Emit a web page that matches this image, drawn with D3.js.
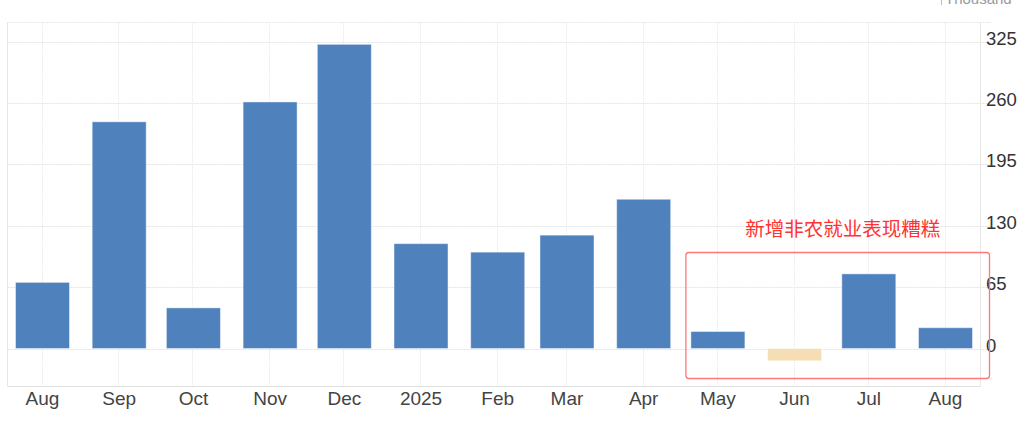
<!DOCTYPE html>
<html>
<head>
<meta charset="utf-8">
<script src="https://cdn.jsdelivr.net/npm/d3@7"></script>
<style>
  html, body { margin: 0; padding: 0; background: #fff; }
  svg { display: block; font-family: "Liberation Sans", Arial, sans-serif; }
</style>
</head>
<body>
<div id="chart"></div>
<script>
// monthly change in nonfarm payrolls, thousands
const months = ['2024-08', '2024-09', '2024-10', '2024-11', '2024-12', '2025-01',
  '2025-02', '2025-03', '2025-04', '2025-05', '2025-06', '2025-07', '2025-08']
const values = [70, 240, 43, 261, 322, 111, 102, 120, 158, 18, -13, 79, 22]
const tickLabels = ['Aug', 'Sep', 'Oct', 'Nov', 'Dec', '2025', 'Feb', 'Mar', 'Apr', 'May', 'Jun', 'Jul', 'Aug']
const yTicks = [0, 65, 130, 195, 260, 325]
const unitLabel = 'Thousand'
const note = '新增非农就业表现糟糕'

const width = 1024, height = 421
const parse = d3.timeParse('%Y-%m')
const data = months.map((m, i) => ({ date: parse(m), value: values[i], label: tickLabels[i] }))

const svg = d3.select('#chart').append('svg')
  .attr('width', width)
  .attr('height', height)

const frameL = 7.5, frameR = 980.5, frameT = 22.5, frameB = 386.5

const x = d3.scaleTime()
  .domain([data[0].date, data[data.length - 1].date])
  .range([42.5, 945.5])

const y = d3.scaleLinear()
  .domain([0, 325])
  .range([348.5, 41.5])

const barW = 54

// frame
svg.append('line')
  .attr('x1', frameL).attr('x2', frameL).attr('y1', frameT).attr('y2', frameB)
  .attr('stroke', '#e6e6e6')
svg.append('line')
  .attr('x1', frameR).attr('x2', frameR).attr('y1', frameT).attr('y2', frameB)
  .attr('stroke', '#e6e6e6')
svg.append('line')
  .attr('x1', frameL).attr('x2', 991).attr('y1', frameT).attr('y2', frameT)
  .attr('stroke', '#e6e6e6').attr('stroke-dasharray', '2,1')

// horizontal grid
svg.append('g')
  .selectAll('line')
  .data(yTicks)
  .join('line')
    .attr('x1', frameL).attr('x2', 991)
    .attr('y1', d => Math.round(y(d)) + 0.5)
    .attr('y2', d => Math.round(y(d)) + 0.5)
    .attr('stroke', '#e3e3e3')
    .attr('stroke-dasharray', '2,1')

// vertical grid
svg.append('g')
  .selectAll('line')
  .data(data)
  .join('line')
    .attr('x1', d => Math.round(x(d.date)) - 0.5)
    .attr('x2', d => Math.round(x(d.date)) - 0.5)
    .attr('y1', frameT).attr('y2', frameB)
    .attr('stroke', '#ececec')
    .attr('stroke-dasharray', '2,1')

// bottom axis line
svg.append('line')
  .attr('x1', frameL).attr('x2', frameR).attr('y1', frameB).attr('y2', frameB)
  .attr('stroke', '#e0e0e0')

// bars
svg.append('g')
  .selectAll('rect')
  .data(data)
  .join('rect')
    .attr('x', d => x(d.date) - barW / 2)
    .attr('width', barW)
    .attr('y', d => y(Math.max(0, d.value)))
    .attr('height', d => Math.abs(y(d.value) - y(0)))
    .attr('fill', d => d.value < 0 ? '#f5deb3' : '#4f81bd')
    .attr('stroke', 'rgba(255,255,255,0.45)')
    .attr('stroke-width', 1)

// x labels
svg.append('g')
  .selectAll('text')
  .data(data)
  .join('text')
    .attr('x', d => x(d.date))
    .attr('y', 405)
    .attr('text-anchor', 'middle')
    .attr('font-size', 19)
    .attr('fill', '#444')
    .text(d => d.label)

// y labels
svg.append('g')
  .selectAll('text')
  .data(yTicks)
  .join('text')
    .attr('x', 986)
    .attr('y', d => y(d) + 3)
    .attr('font-size', 18.5)
    .attr('fill', '#333')
    .text(d => d)

// unit label, cut off at the top
svg.append('line')
  .attr('x1', 941.5).attr('x2', 941.5).attr('y1', 0).attr('y2', 5)
  .attr('stroke', '#bbb')
svg.append('text')
  .attr('x', 945)
  .attr('y', 4)
  .attr('font-size', 15)
  .attr('fill', '#999')
  .text(unitLabel)

// annotation
const first = data[9].date, last = data[12].date
svg.append('rect')
  .attr('x', x(first) - 32)
  .attr('y', 252.5)
  .attr('width', x(last) - x(first) + 76)
  .attr('height', 126)
  .attr('rx', 3)
  .attr('fill', 'none')
  .attr('stroke', '#f77')
  .attr('stroke-width', 1.3)

svg.append('text')
  .attr('x', (x(first) + x(last)) / 2 + 11)
  .attr('y', 236)
  .attr('text-anchor', 'middle')
  .attr('font-family', '"Noto Sans CJK SC", sans-serif')
  .attr('font-size', 19.5)
  .attr('fill', '#f33')
  .text(note)
</script>
</body>
</html>
